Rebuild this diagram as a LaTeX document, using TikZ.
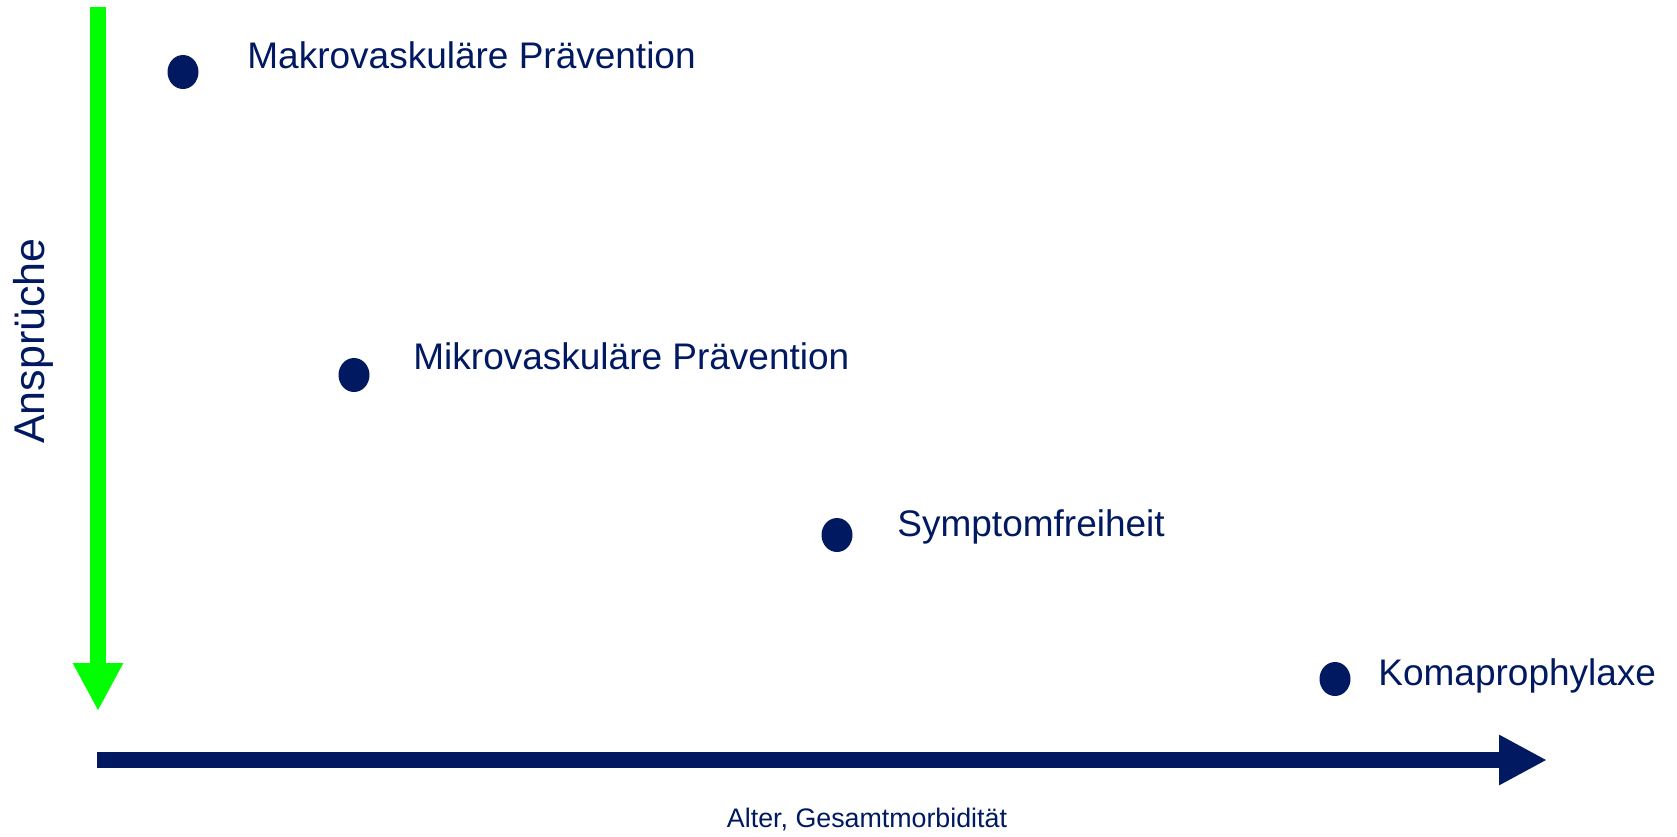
\documentclass[tikz,border=0pt]{standalone}
\usepackage{fontspec}
\setmainfont{Liberation Sans}
\usetikzlibrary{arrows.meta,shapes.geometric}
\definecolor{navy}{RGB}{0,25,96}
\definecolor{brightgreen}{RGB}{0,255,0}
\tikzset{
    dot/.style={ellipse, fill=navy, inner sep=0pt, minimum width=15.5pt, minimum height=17pt},
    goal/.style={anchor=base west, inner sep=0pt, text=navy, font=\fontsize{18.5}{22}\selectfont},
    axis/.style={line width=8pt, -{Triangle[length=24pt,width=23.5pt]}}
}
\begin{document}
\begin{tikzpicture}[x=0.5pt,y=-0.5pt]
\useasboundingbox (0,0) rectangle (1677,836);
\coordinate (ytop) at (98,7);
\coordinate (ybot) at (98,711);
\coordinate (xleft) at (97,760);
\coordinate (xright) at (1547,760);
\draw[axis,brightgreen] (ytop) -- (ybot);
\draw[axis,navy] (xleft) -- (xright);

\node[dot] at (183,72) (makro) {};
\node[goal] at (247,68) (makrotext) {Makrovaskuläre Prävention};
\node[dot] at (354,375) (mikro) {};
\node[goal] at (413,369) (mikrotext) {Mikrovaskuläre Prävention};
\node[dot] at (837,535) (sympt) {};
\node[goal] at (897,536) (symptext) {Symptomfreiheit};
\node[dot] at (1335,679) (koma) {};
\node[goal] at (1378,685) (komatext) {Komaprophylaxe};

\node[rotate=90, anchor=base, inner sep=0pt, text=navy, font=\fontsize{21.5}{26}\selectfont] at (45,341) (yname) {Ansprüche};
\node[anchor=base, inner sep=0pt, text=navy, font=\fontsize{13.4}{16}\selectfont] at (867,827) (xname) {Alter, Gesamtmorbidität};
\end{tikzpicture}
\end{document}
